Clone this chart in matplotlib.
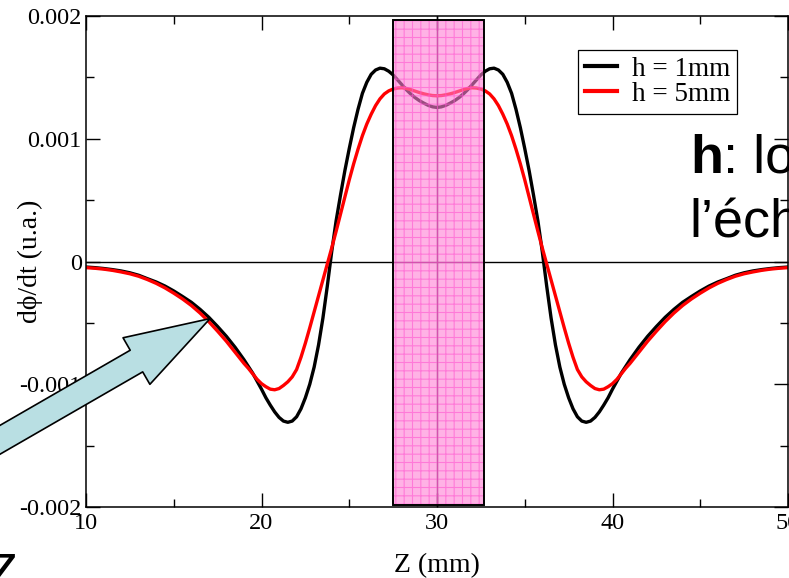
import matplotlib
matplotlib.use("Agg")
import matplotlib.pyplot as plt
import numpy as np
from matplotlib.patches import Rectangle

# ---------------- data (values in units of 1e-3) -------------
z_mm = [10.0, 10.5, 11.0, 11.5, 12.0, 12.5, 13.0, 13.5, 14.0, 14.5,
        15.0, 15.5, 16.0, 16.5, 17.0, 17.5,
        18.0, 18.25, 18.5, 18.75, 19.0, 19.25, 19.5, 19.75,
        20.0, 20.25, 20.5, 20.75, 21.0, 21.25, 21.5, 21.75,
        22.0, 22.25, 22.5, 22.75, 23.0, 23.25, 23.5, 23.75,
        24.0, 24.25, 24.5, 24.75, 25.0, 25.25, 25.5, 25.75,
        26.0, 26.25, 26.5, 26.75, 27.0, 27.25, 27.5, 27.75,
        28.0, 28.25, 28.5, 28.75, 29.0, 29.25, 29.5, 29.75,
        30.0,
        30.25, 30.5, 30.75, 31.0, 31.25, 31.5, 31.75, 32.0,
        32.25, 32.5, 32.75, 33.0, 33.25, 33.5, 33.75, 34.0,
        34.25, 34.5, 34.75, 35.0, 35.25, 35.5, 35.75, 36.0,
        36.25, 36.5, 36.75, 37.0, 37.25, 37.5, 37.75, 38.0,
        38.25, 38.5, 38.75, 39.0, 39.25, 39.5, 39.75, 40.0,
        40.25, 40.5, 40.75, 41.0, 41.25, 41.5, 41.75, 42.0,
        42.5, 43.0, 43.5, 44.0, 44.5, 45.0, 45.5, 46.0,
        46.5, 47.0, 47.5, 48.0, 48.5, 49.0, 49.5, 50.0]

dphi_h1mm_e3 = [-0.045, -0.050, -0.057, -0.066, -0.077, -0.092, -0.112, -0.140, -0.167, -0.200,
                -0.240, -0.285, -0.332, -0.390, -0.455, -0.530,
                -0.610, -0.655, -0.700, -0.750, -0.800, -0.855, -0.910, -0.975,
                -1.040, -1.110, -1.170, -1.225, -1.270, -1.300, -1.310, -1.300,
                -1.265, -1.200, -1.110, -1.000, -0.860, -0.680, -0.460, -0.200,
                0.080, 0.330, 0.540, 0.740, 0.920, 1.090, 1.240, 1.370,
                1.460, 1.525, 1.560, 1.575, 1.570, 1.550, 1.520, 1.480,
                1.440, 1.400, 1.365, 1.335, 1.310, 1.290, 1.272, 1.260,
                1.255,
                1.260, 1.272, 1.290, 1.310, 1.335, 1.365, 1.400, 1.440,
                1.480, 1.520, 1.550, 1.570, 1.575, 1.560, 1.525, 1.460,
                1.370, 1.240, 1.090, 0.920, 0.740, 0.540, 0.330, 0.080,
                -0.200, -0.460, -0.680, -0.860, -1.000, -1.110, -1.200, -1.265,
                -1.300, -1.310, -1.300, -1.270, -1.225, -1.170, -1.110, -1.040,
                -0.975, -0.910, -0.855, -0.800, -0.750, -0.700, -0.655, -0.610,
                -0.530, -0.455, -0.390, -0.332, -0.285, -0.240, -0.200, -0.167,
                -0.140, -0.112, -0.092, -0.077, -0.066, -0.057, -0.050, -0.045]

dphi_h5mm_e3 = [-0.050, -0.055, -0.062, -0.072, -0.085, -0.100, -0.120, -0.147, -0.178, -0.215,
                -0.258, -0.305, -0.358, -0.420, -0.490, -0.568,
                -0.650, -0.695, -0.740, -0.785, -0.830, -0.870, -0.915, -0.960,
                -0.995, -1.020, -1.040, -1.045, -1.035, -1.010, -0.980, -0.940,
                -0.880, -0.780, -0.665, -0.540, -0.410, -0.280, -0.150, -0.020,
                0.110, 0.245, 0.385, 0.525, 0.665, 0.795, 0.915, 1.025,
                1.120, 1.200, 1.270, 1.325, 1.365, 1.390, 1.405, 1.413,
                1.415, 1.410, 1.400, 1.388, 1.376, 1.366, 1.358, 1.352,
                1.350,
                1.352, 1.358, 1.366, 1.376, 1.388, 1.400, 1.410, 1.415,
                1.413, 1.405, 1.390, 1.365, 1.325, 1.270, 1.200, 1.120,
                1.025, 0.915, 0.795, 0.665, 0.525, 0.385, 0.245, 0.110,
                -0.020, -0.150, -0.280, -0.410, -0.540, -0.665, -0.780, -0.880,
                -0.940, -0.980, -1.010, -1.035, -1.045, -1.040, -1.020, -0.995,
                -0.960, -0.915, -0.870, -0.830, -0.785, -0.740, -0.695, -0.650,
                -0.568, -0.490, -0.420, -0.358, -0.305, -0.258, -0.215, -0.178,
                -0.147, -0.120, -0.100, -0.085, -0.072, -0.062, -0.055, -0.050]

series_labels = ["h = 1mm", "h = 5mm"]
x_ticks = [10, 20, 30, 40, 50]
x_tick_labels = ["10", "20", "30", "40", "50"]
y_ticks = [-0.002, -0.001, 0.0, 0.001, 0.002]
y_tick_labels = ["-0.002", "-0.001", "0", "0.001", "0.002"]
sample_zone = (27.5, 32.7)      # shaded sample region (mm)

# ---------------- figure ----------------
plt.rcParams["font.family"] = ["Liberation Serif", "DejaVu Serif"]
plt.rcParams["hatch.linewidth"] = 0.8
W, H = 789, 578
fig = plt.figure(figsize=(W / 100, H / 100), dpi=100)
ax = fig.add_axes([86 / W, 1 - 507 / H, (788 - 86) / W, (507 - 16) / H])

z = np.asarray(z_mm)
ax.axhline(0, color="black", lw=1.0, zorder=1)
ax.axvline(30, color="black", lw=1.0, zorder=1)
l1, = ax.plot(z, np.asarray(dphi_h1mm_e3) * 1e-3, color="black", lw=2.4, zorder=2,
              label=series_labels[0], solid_joinstyle="round")
l2, = ax.plot(z, np.asarray(dphi_h5mm_e3) * 1e-3, color="#ff0000", lw=2.4, zorder=2,
              label=series_labels[1], solid_joinstyle="round")

# sample box (semi-transparent pink with grid hatch)
ax.add_patch(Rectangle((sample_zone[0], -0.00198), sample_zone[1] - sample_zone[0], 0.00395,
                       facecolor="#ff7fd4", edgecolor="#ff55d0", lw=0, hatch="++",
                       alpha=0.6, zorder=3))
ax.add_patch(Rectangle((sample_zone[0], -0.00198), sample_zone[1] - sample_zone[0], 0.00395,
                       facecolor="none", edgecolor="black", lw=1.4, zorder=3.1))

ax.set_xlim(10, 50)
ax.set_ylim(-0.002, 0.002)
ax.set_xticks(x_ticks)
ax.set_xticklabels(x_tick_labels)
ax.set_xticks([15, 25, 35, 45], minor=True)
ax.set_yticks(y_ticks)
ax.set_yticklabels(y_tick_labels)
ax.set_yticks([-0.0015, -0.0005, 0.0005, 0.0015], minor=True)
ax.tick_params(which="both", direction="in", top=True, right=True, width=1.0)
ax.tick_params(which="major", length=10, labelsize=17.5)
ax.tick_params(axis="x", which="major", pad=4)
ax.tick_params(axis="y", which="major", pad=3)
ax.tick_params(which="minor", length=5.5)
for s in ax.spines.values():
    s.set_linewidth(1.1)

ax.set_xlabel("Z (mm)", fontsize=20, labelpad=14)
ax.set_ylabel("d\u03d5/dt (u.a.)", fontsize=20)
ax.yaxis.set_label_coords((43 - 86) / (788 - 86), 0.5)

leg = ax.legend(handles=[l1, l2], loc="upper left",
                bbox_to_anchor=(578 / W, 1 - 50 / H), bbox_transform=fig.transFigure,
                borderaxespad=0, fontsize=19.5, frameon=True, fancybox=False,
                edgecolor="black", framealpha=1, handlelength=1.2, handletextpad=0.55,
                labelspacing=0.0, borderpad=0.25)
leg.get_frame().set_linewidth(0.9)
for ln in leg.get_lines():
    ln.set_linewidth(3.0)
leg.set_zorder(6)

# big slide arrow
ax.annotate("", xy=(17.07, -0.000465), xycoords="data",
            xytext=(-42, 114), textcoords="figure pixels",
            arrowprops=dict(arrowstyle="simple,head_length=3.4,head_width=2.15,tail_width=1.0",
                            mutation_scale=18, fc="#b9dfe3", ec="black", lw=1.2,
                            shrinkA=0, shrinkB=0, clip_on=False),
            annotation_clip=False, zorder=7)

# slide text partly cut off by the picture edges
sans = ["Liberation Sans", "DejaVu Sans"]
th = fig.text(690 / W, 1 - 173 / H, "h", fontsize=39, fontweight="bold",
              family=sans, va="baseline", ha="left", zorder=8)
ax.annotate(": longueur de", xy=(1, 0), xycoords=th, va="bottom", ha="left",
            fontsize=39, family=sans, annotation_clip=False, zorder=8)
fig.text(689 / W, 1 - 237 / H, "l\u2019\u00e9chantillon", fontsize=39, family=sans,
         va="baseline", ha="left", zorder=8)
fig.text(-17 / W, 1 - 592 / H, "Z", fontsize=40, family=sans, va="baseline", ha="left")

fig.savefig("out.png", dpi=100)
